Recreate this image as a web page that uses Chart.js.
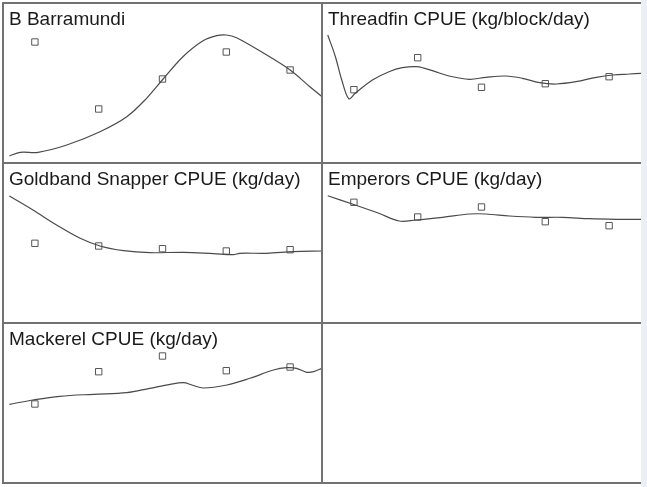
<!DOCTYPE html>
<html>
<head>
<meta charset="utf-8">
<script src="https://cdn.jsdelivr.net/npm/chart.js@4/dist/chart.umd.min.js"></script>
<style>
  html, body { margin: 0; padding: 0; background: #fff; }
  #wrap { position: relative; width: 647px; height: 487px; overflow: hidden; }
  #strip { position: absolute; left: 641px; top: 0; width: 6px; height: 487px; background: #eceff7; }
  .panel { position: absolute; width: 319px; height: 160px; }
  .panel canvas { position: absolute; left: 0; top: 0; }
  .title { position: absolute; left: 6px; top: 6px; font: 19px "Liberation Sans", Arial, sans-serif;
           line-height: 19px; color: #1a1a1a; white-space: nowrap; }
  .hl, .vl { position: absolute; background: #727272; }
  .hl { height: 2px; }
  .vl { width: 2px; }
</style>
</head>
<body>
<div id="wrap">
  <div id="strip"></div>
</div>
<script>
// survey years (x) and observed CPUE (squares), fitted model line (curve)
const obsX = [1, 2, 3, 4, 5];

const barramundiObs = [121, 54, 84, 111, 93];
const barramundiFitX = [0.6, 0.77, 1.05, 1.5, 2.02, 2.44, 2.75, 3.01, 3.32, 3.63, 3.85, 4.0, 4.16, 4.58, 5.0, 5.31, 5.5];
const barramundiFit = [7, 10.7, 10.7, 18, 31.3, 46.3, 64.7, 84, 106.3, 122, 127.3, 128, 125.3, 110, 93, 76.3, 66.3];

const threadfinObs = [73.3, 105.3, 75.7, 79.3, 86.3];
const threadfinFitX = [0.59, 0.71, 0.81, 0.92, 1.02, 1.29, 1.55, 1.76, 1.99, 2.23, 2.49, 2.81, 3.07, 3.38, 3.64, 3.91, 4.17, 4.48, 4.8, 5.06, 5.32, 5.5];
const threadfinFit = [128, 106.3, 83, 64.3, 69.7, 83, 91.3, 95.3, 96.3, 92.3, 87, 83.7, 85.7, 87, 84.7, 80.3, 79, 81.3, 85.7, 88, 89, 89.7];

const goldbandObs = [79.7, 77, 74.3, 72, 73.3];
const goldbandFitX = [0.6, 0.97, 1.34, 1.71, 2.02, 2.39, 2.8, 3.33, 3.8, 4.11, 4.21, 4.63, 5.05, 5.5];
const goldbandFit = [127, 113, 98, 84.7, 77, 72.3, 70.3, 70.7, 69.3, 68.3, 69.7, 69.7, 71.3, 72];

const emperorsObs = [120.7, 106, 116, 101.3, 97.3];
const emperorsFitX = [0.59, 1.02, 1.39, 1.71, 1.97, 2.39, 2.81, 3.07, 3.44, 3.85, 4.27, 4.69, 5.11, 5.5];
const emperorsFit = [127.3, 118, 109.7, 102, 103, 105.7, 109, 109, 107, 105.7, 105.7, 104.3, 103.7, 103.7];

const mackerelObs = [79, 111.3, 127, 112.3, 116];
const mackerelFitX = [0.6, 0.97, 1.39, 1.92, 2.44, 2.8, 3.12, 3.33, 3.46, 3.64, 4.01, 4.37, 4.74, 4.95, 5.1, 5.26, 5.37, 5.5];
const mackerelFit = [78.7, 83, 86.7, 88.7, 90.3, 94.7, 98.7, 100.3, 98, 95, 98, 104.7, 113, 115.3, 114.7, 110.7, 111.3, 114.7];

const titles = [
  'B Barramundi',
  'Threadfin CPUE (kg/block/day)',
  'Goldband Snapper CPUE (kg/day)',
  'Emperors CPUE (kg/day)',
  'Mackerel CPUE (kg/day)'
];

const panels = [
  { left: 3,   top: 3,   obs: barramundiObs, fx: barramundiFitX, fy: barramundiFit },
  { left: 322, top: 3,   obs: threadfinObs,  fx: threadfinFitX,  fy: threadfinFit },
  { left: 3,   top: 163, obs: goldbandObs,   fx: goldbandFitX,   fy: goldbandFit },
  { left: 322, top: 163, obs: emperorsObs,   fx: emperorsFitX,   fy: emperorsFit },
  { left: 3,   top: 323, obs: mackerelObs,   fx: mackerelFitX,   fy: mackerelFit }
];

const wrap = document.getElementById('wrap');

panels.forEach((p, i) => {
  const div = document.createElement('div');
  div.className = 'panel';
  div.style.left = p.left + 'px';
  div.style.top = p.top + 'px';
  const cv = document.createElement('canvas');
  cv.width = 319; cv.height = 160;
  cv.style.width = '319px'; cv.style.height = '160px';
  div.appendChild(cv);
  const t = document.createElement('div');
  t.className = 'title';
  t.textContent = titles[i];
  div.appendChild(t);
  wrap.appendChild(div);

  new Chart(cv, {
    type: 'scatter',
    data: {
      datasets: [
        {
          label: 'fit',
          data: p.fx.map((x, k) => ({ x, y: p.fy[k] })),
          showLine: true,
          borderColor: '#4a4a4a',
          borderWidth: 1.2,
          pointRadius: 0,
          tension: 0.35
        },
        {
          label: 'obs',
          data: obsX.map((x, k) => ({ x, y: p.obs[k] })),
          pointStyle: 'rect',
          pointRadius: 4.5,
          borderColor: '#555',
          borderWidth: 1,
          backgroundColor: '#fff'
        }
      ]
    },
    options: {
      responsive: false,
      animation: false,
      devicePixelRatio: 1,
      layout: { padding: 0, autoPadding: false },
      plugins: { legend: { display: false }, tooltip: { enabled: false } },
      scales: {
        x: { type: 'linear', min: 0.5, max: 5.5, display: false },
        y: { min: 0, max: 160, display: false }
      }
    }
  });
});

// panel frame lines
[3, 163, 323, 483].forEach(y => {
  const l = document.createElement('div');
  l.className = 'hl';
  l.style.left = '2px'; l.style.top = (y - 1) + 'px'; l.style.width = '639px';
  wrap.appendChild(l);
});
[2, 321].forEach(x => {
  const l = document.createElement('div');
  l.className = 'vl';
  l.style.left = x + 'px'; l.style.top = '2px'; l.style.height = '482px';
  wrap.appendChild(l);
});
</script>
</body>
</html>
